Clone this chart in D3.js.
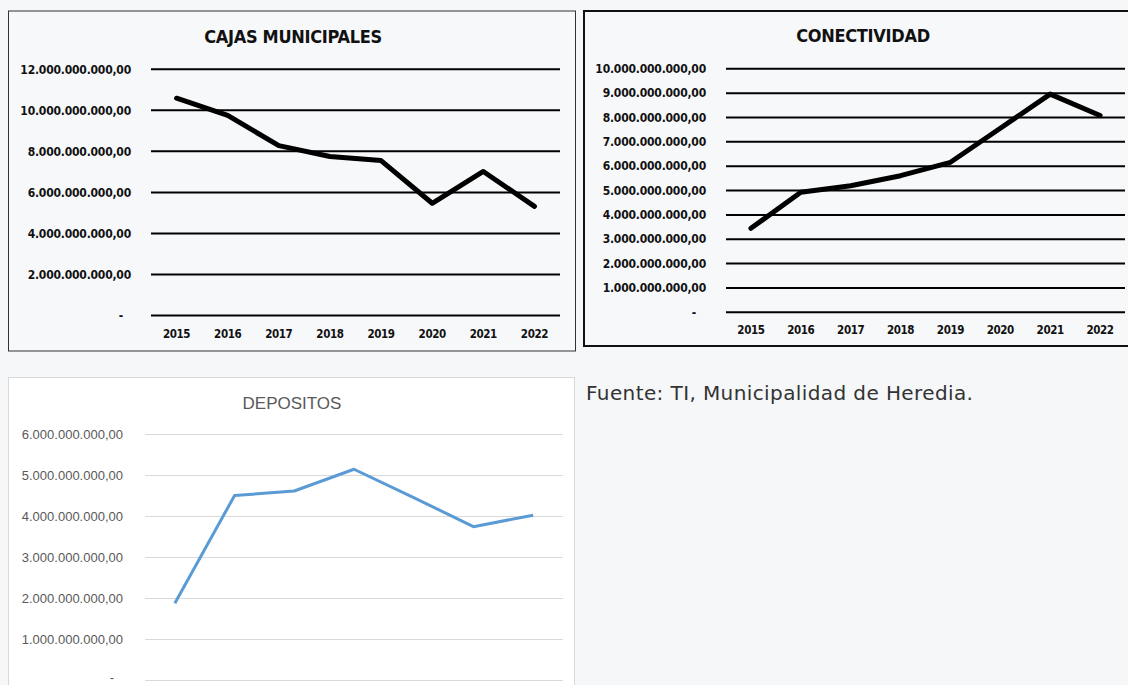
<!DOCTYPE html>
<html>
<head>
<meta charset="utf-8">
<script src="https://cdn.jsdelivr.net/npm/d3@7"></script>
<style>
  html, body { margin: 0; padding: 0; background: #f6f7f9; }
  svg { display: block; }
</style>
</head>
<body>
<div id="canvas"></div>
<script>
// data
const years = ["2015", "2016", "2017", "2018", "2019", "2020", "2021", "2022"];
const cajas = [10.59e9, 9.75e9, 8.28e9, 7.75e9, 7.55e9, 5.47e9, 7.02e9, 5.32e9];
const conectividad = [3.45e9, 4.93e9, 5.2e9, 5.61e9, 6.16e9, 7.56e9, 8.96e9, 8.08e9];
const depYears = ["2016", "2017", "2018", "2019", "2020", "2021", "2022"];
const depositos = [1.87e9, 4.5e9, 4.61e9, 5.14e9, 4.45e9, 3.74e9, 4.02e9];
const cajasTicks = [0, 2e9, 4e9, 6e9, 8e9, 10e9, 12e9];
const conTicks = [0, 1e9, 2e9, 3e9, 4e9, 5e9, 6e9, 7e9, 8e9, 9e9, 10e9];
const depTicks = [0, 1e9, 2e9, 3e9, 4e9, 5e9, 6e9];
const fuente = "Fuente: TI, Municipalidad de Heredia.";

const W = 1128, H = 685;

const svg = d3.select("#canvas")
    .append("svg")
    .attr("width", W)
    .attr("height", H);

// es-CR style number: 12.000.000.000,00 and "-" for zero
const fmt = v => v === 0 ? "-" :
    d3.format(",")(v).replace(/,/g, ".") + ",00";

function boldChart(opt) {
    const g = svg.append("g");
    g.append("rect")
        .attr("x", opt.box[0]).attr("y", opt.box[1])
        .attr("width", opt.box[2]).attr("height", opt.box[3])
        .attr("fill", "#f7f8fa")
        .attr("stroke", opt.boxStroke)
        .attr("stroke-width", opt.boxWidth);

    const x = d3.scaleBand().domain(years).range(opt.xr).padding(0);
    const y = d3.scaleLinear().domain(opt.yd).range(opt.yr);

    const font = "'DejaVu Sans Condensed', 'DejaVu Sans', sans-serif";

    g.append("text")
        .attr("x", opt.titleX).attr("y", opt.titleY)
        .attr("text-anchor", "middle")
        .attr("font-family", font)
        .attr("font-stretch", "condensed")
        .attr("font-weight", "bold")
        .attr("font-size", 18)
        .attr("letter-spacing", -0.3)
        .attr("fill", "#111")
        .text(opt.title);

    // gridlines
    g.append("g").selectAll("line")
        .data(opt.ticks)
        .join("line")
        .attr("x1", opt.xr[0]).attr("x2", opt.xr[1])
        .attr("y1", d => y(d)).attr("y2", d => y(d))
        .attr("stroke", "#000")
        .attr("stroke-width", 2);

    // y labels
    g.append("g").selectAll("text")
        .data(opt.ticks)
        .join("text")
        .attr("x", d => d === 0 ? opt.labelX - opt.dashShift : opt.labelX)
        .attr("y", d => y(d))
        .attr("dy", "0.35em")
        .attr("text-anchor", "end")
        .attr("font-family", font)
        .attr("font-stretch", "condensed")
        .attr("font-weight", "bold")
        .attr("font-size", 12)
        .attr("letter-spacing", -0.2)
        .attr("fill", "#111")
        .text(fmt);

    // x labels
    g.append("g").selectAll("text")
        .data(years)
        .join("text")
        .attr("x", d => x(d) + x.bandwidth() / 2)
        .attr("y", opt.xLabelY)
        .attr("dy", "0.35em")
        .attr("text-anchor", "middle")
        .attr("font-family", font)
        .attr("font-stretch", "condensed")
        .attr("font-weight", "bold")
        .attr("font-size", 11.5)
        .attr("letter-spacing", -0.4)
        .attr("fill", "#111")
        .text(d => d);

    g.append("path")
        .datum(opt.values)
        .attr("fill", "none")
        .attr("stroke", "#000")
        .attr("stroke-width", 5)
        .attr("stroke-linejoin", "round")
        .attr("stroke-linecap", "round")
        .attr("d", d3.line()
            .x((d, i) => x(years[i]) + x.bandwidth() / 2)
            .y(d => y(d)));
}

boldChart({
    box: [8.5, 11, 567, 340], boxStroke: "#333", boxWidth: 1,
    title: "CAJAS MUNICIPALES", titleX: 293, titleY: 43,
    xr: [151, 560], yd: [0, 12e9], yr: [315.5, 69.3],
    ticks: cajasTicks, values: cajas,
    labelX: 131, dashShift: 8, xLabelY: 334
});

boldChart({
    box: [584, 11, 560, 335], boxStroke: "#111", boxWidth: 2,
    title: "CONECTIVIDAD", titleX: 863, titleY: 42,
    xr: [726, 1125], yd: [0, 10e9], yr: [312.3, 68.8],
    ticks: conTicks, values: conectividad,
    labelX: 706, dashShift: 10, xLabelY: 330
});

// DEPOSITOS (Excel default style); its year labels sit below the cropped edge
const g3 = svg.append("g");
g3.append("rect")
    .attr("x", 8.5).attr("y", 377.5)
    .attr("width", 566).attr("height", 330)
    .attr("fill", "#fff")
    .attr("stroke", "#d9d9d9");

const x3 = d3.scaleBand().domain(depYears).range([145, 563]).padding(0);
const y3 = d3.scaleLinear().domain([0, 6e9]).range([680, 434]);

g3.append("text")
    .attr("x", 292).attr("y", 409)
    .attr("text-anchor", "middle")
    .attr("font-family", "'Liberation Sans', Arial, sans-serif")
    .attr("font-size", 17)
    .attr("fill", "#595959")
    .text("DEPOSITOS");

g3.append("g").selectAll("line")
    .data(depTicks)
    .join("line")
    .attr("x1", 145).attr("x2", 563)
    .attr("y1", d => y3(d) + 0.5).attr("y2", d => y3(d) + 0.5)
    .attr("stroke", "#d9d9d9")
    .attr("stroke-width", 1);

g3.append("g").selectAll("text")
    .data(depTicks)
    .join("text")
    .attr("x", d => d === 0 ? 114 : 123)
    .attr("y", d => d === 0 ? y3(d) - 3 : y3(d))
    .attr("dy", "0.35em")
    .attr("text-anchor", "end")
    .attr("font-family", "'Liberation Sans', Arial, sans-serif")
    .attr("font-size", 13)
    .attr("fill", "#595959")
    .text(fmt);

g3.append("path")
    .datum(depositos)
    .attr("fill", "none")
    .attr("stroke", "#5b9bd5")
    .attr("stroke-width", 3)
    .attr("stroke-linejoin", "round")
    .attr("d", d3.line()
        .x((d, i) => x3(depYears[i]) + x3.bandwidth() / 2)
        .y(d => y3(d)));

// source note
svg.append("text")
    .attr("x", 586).attr("y", 400)
    .attr("font-family", "'DejaVu Sans', 'Open Sans', sans-serif")
    .attr("font-size", 20)
    .attr("letter-spacing", 0.4)
    .attr("fill", "#333")
    .text(fuente);
</script>
</body>
</html>
